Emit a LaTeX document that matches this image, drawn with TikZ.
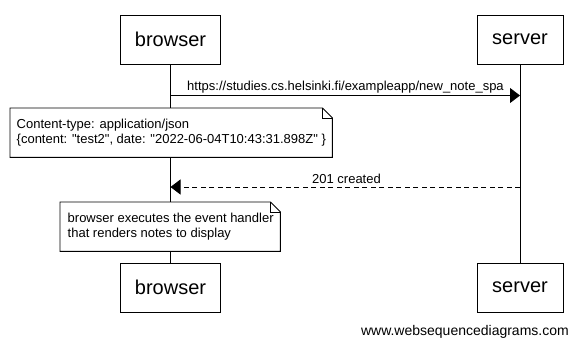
\documentclass[tikz,border=0pt]{standalone}
\usepackage{fontspec}
\setmainfont{Liberation Sans}[Ligatures=TeXOff]
\usetikzlibrary{arrows.meta}
\begin{document}
\begin{tikzpicture}[x=1pt,y=-1pt,
  actor/.style={draw, line width=0.9pt, inner sep=0pt, minimum height=49pt,
    font=\fontsize{20}{24}\selectfont},
  lifeline/.style={line width=0.9pt},
  msg/.style={line width=0.9pt, -{Triangle[length=10pt,width=15pt]}},
  reply/.style={msg, dash pattern=on 5pt off 3.5pt},
  msglabel/.style={font=\fontsize{13}{15}\selectfont, anchor=base, inner sep=0pt},
  notearea/.style={inner sep=0pt, minimum height=49pt, anchor=north west},
  notetext/.style={font=\fontsize{13}{15}\selectfont, align=left, anchor=west, inner sep=0pt},
  noteline/.style={line width=0.9pt, fill=white, line join=miter},
  notefold/.style={line width=0.6pt},
]
\useasboundingbox (0,0) rectangle (578,346);

% participants, top and bottom
\node[actor, minimum width=100pt] (bt) at (170.5,39.5) {browser};
\node[actor, minimum width=86pt]  (st) at (520,39.5)   {server};
\node[actor, minimum width=100pt] (bb) at (170.5,287.5) {browser};
\node[actor, minimum width=86pt]  (sb) at (520,287.5)   {server};

% lifelines
\draw[lifeline] (bt.south) -- (bb.north);
\draw[lifeline] (st.south) -- (sb.north);

% message end points on the lifelines
\coordinate (m1a) at (bt.south |- 0,95.5);
\coordinate (m1b) at (st.south |- 0,95.5);
\coordinate (m2a) at (st.south |- 0,187);
\coordinate (m2b) at (bt.south |- 0,187);

% request
\draw[msg] (m1a) -- (m1b);
\node[msglabel] (l1) at (345.5,90.5) {https://studies.cs.helsinki.fi/exampleapp/new\_note\_spa};

% note with the payload
\node[notearea, minimum width=322pt] (n1) at (10,108) {};
\draw[noteline] (n1.north west) -- ([xshift=-10pt]n1.north east)
  -- ([yshift=-10pt]n1.north east) -- (n1.south east) -- (n1.south west) -- cycle;
\draw[notefold] ([xshift=-10pt]n1.north east) -- ([xshift=-10pt,yshift=-10pt]n1.north east)
  -- ([yshift=-10pt]n1.north east);
\node[notetext] (t1) at ([xshift=6.5pt]n1.west)
  {Content-type: application/json\\\{content: "test2", date: "2022-06-04T10:43:31.898Z" \}};

% response
\draw[reply] (m2a) -- (m2b);
\node[msglabel] (l2) at (346.5,183) {201 created};

% note on the browser side
\node[notearea, minimum width=220pt] (n2) at (60,202) {};
\draw[noteline] (n2.north west) -- ([xshift=-10pt]n2.north east)
  -- ([yshift=-10pt]n2.north east) -- (n2.south east) -- (n2.south west) -- cycle;
\draw[notefold] ([xshift=-10pt]n2.north east) -- ([xshift=-10pt,yshift=-10pt]n2.north east)
  -- ([yshift=-10pt]n2.north east);
\node[notetext] (t2) at ([xshift=7.5pt]n2.west)
  {browser executes the event handler\\that renders notes to display};

% footer
\node[font=\fontsize{14}{16}\selectfont, anchor=base east, inner sep=0pt] (wsd)
  at (569,335) {www.websequencediagrams.com};
\end{tikzpicture}
\end{document}
